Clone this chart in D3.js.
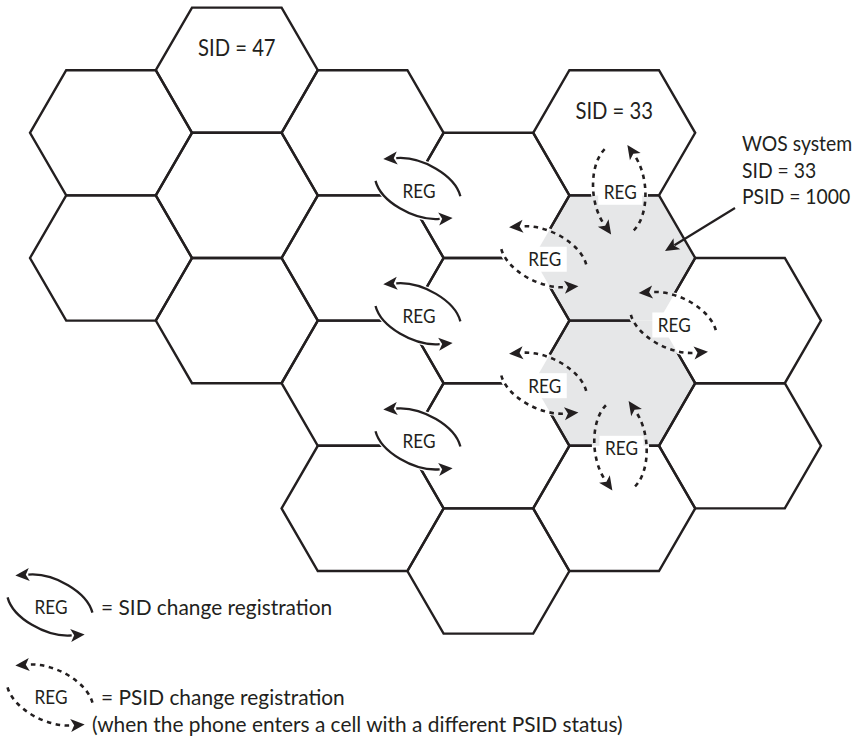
<!DOCTYPE html>
<html lang="en">
<head>
<meta charset="UTF-8">
<title>SID / PSID change registration</title>
<script src="https://d3js.org/d3.v7.min.js"></script>
<style>
  html, body { margin: 0; background: #fff; }
  svg { display: block; }
  text { font-family: Lato, "Open Sans", sans-serif; fill: #231f20; }
</style>
</head>
<body>
<svg id="chart" width="865" height="739"></svg>
<script>
// hex cells of the flat-top grid: column and half-row index
const cellCol = [0, 0, 1, 1, 1, 2, 2, 2, 2, 3, 3, 3, 3, 4, 4, 4, 4, 5, 5];
const cellRow = [2, 4, 1, 3, 5, 2, 4, 6, 8, 3, 5, 7, 9, 2, 4, 6, 8, 5, 7];
// cells of the WOS system (grey)
const shadedCol = [4, 4];
const shadedRow = [4, 6];
// labels written inside cells
const cellLabelCol = [1, 4];
const cellLabelRow = [1, 2];
const cellLabelText = ["SID = 47", "SID = 33"];
// REG markers: position in grid units, kind and tilt of the ellipse (deg)
const regCol = [2.44, 2.44, 2.44, 4.04, 3.44, 4.47, 3.44, 4.05];
const regRow = [2.89, 4.89, 6.89, 2.91, 3.98, 5.03, 6.0, 7.0];
const regKind = ["SID", "SID", "SID", "PSID", "PSID", "PSID", "PSID", "PSID"];
const regTilt = [25, 25, 25, 85, 25, 25, 25, 85];
// callout text
const wosLines = ["WOS system", "SID = 33", "PSID = 1000"];
// legend
const legendKind = ["SID", "PSID"];
const legendLines = [
    ["= SID change registration"],
    ["= PSID change registration", "(when the phone enters a cell with a different PSID status)"]
];

const ink = "#231f20";
const svg = d3.select("#chart");

// grid scales
const x = d3.scaleLinear().domain([0, 5]).range([111, 740]);
const y = d3.scaleLinear().domain([0, 10]).range([7.6, 633.6]);
const hexR = 81;                    // centre to side corner
const hexA = (x(1) - x(0)) - hexR;  // half of top edge
const hexH = y(1) - y(0);           // half height

function hexPath(c, r) {
    const cx = x(c), cy = y(r);
    return d3.line()([
        [cx - hexR, cy], [cx - hexA, cy - hexH], [cx + hexA, cy - hexH],
        [cx + hexR, cy], [cx + hexA, cy + hexH], [cx - hexA, cy + hexH]
    ]) + "Z";
}

// narrow-looking text: Lato squeezed a little horizontally
function addText(parent, px, py, str, size, sq, anchor) {
    parent.append("g")
        .attr("transform", `translate(${px},${py}) scale(${sq},1)`)
        .append("text")
        .attr("text-anchor", anchor || "start")
        .attr("dominant-baseline", "central")
        .attr("font-size", size)
        .text(str);
}

const cells = cellCol.map((c, i) => ({ col: c, row: cellRow[i] }));
const shaded = shadedCol.map((c, i) => ({ col: c, row: shadedRow[i] }));
const markers = regCol.map((c, i) => ({
    cx: x(c), cy: y(regRow[i]), kind: regKind[i], tilt: regTilt[i]
}));

// REG ellipse shape
const RX = 46, RY = 26;
const rad = d => d * Math.PI / 180;

function ellPoint(m, t) {
    const a = rad(t), th = rad(m.tilt);
    const lx = RX * Math.cos(a), ly = RY * Math.sin(a);
    return [m.cx + lx * Math.cos(th) - ly * Math.sin(th),
            m.cy + lx * Math.sin(th) + ly * Math.cos(th)];
}
// direction of travel when t decreases
function ellDir(m, t) {
    const a = rad(t), th = rad(m.tilt);
    const lx = RX * Math.sin(a), ly = -RY * Math.cos(a);
    const dx = lx * Math.cos(th) - ly * Math.sin(th);
    const dy = lx * Math.sin(th) + ly * Math.cos(th);
    const n = Math.hypot(dx, dy);
    return [dx / n, dy / n];
}

const arcs = [[-25, -135], [155, 45]];

// knock-out mask: line work is hidden inside the REG ellipses
const defs = svg.append("defs");
const mask = defs.append("mask").attr("id", "knock")
    .attr("maskUnits", "userSpaceOnUse")
    .attr("x", 0).attr("y", 0).attr("width", 865).attr("height", 739);
mask.append("rect").attr("width", 865).attr("height", 739).attr("fill", "white");
mask.selectAll("ellipse").data(markers).enter().append("ellipse")
    .attr("rx", RX * 1.06).attr("ry", RY * 1.1)
    .attr("transform", d => `translate(${d.cx},${d.cy}) rotate(${d.tilt})`)
    .attr("fill", "black");

// grey cells
svg.append("g").selectAll("path").data(shaded).enter().append("path")
    .attr("d", d => hexPath(d.col, d.row))
    .attr("fill", "#e6e7e8");

// hex outlines
svg.append("g").attr("mask", "url(#knock)")
    .selectAll("path").data(cells).enter().append("path")
    .attr("d", d => hexPath(d.col, d.row))
    .attr("fill", "none")
    .attr("stroke", ink)
    .attr("stroke-width", 2.4)
    .attr("stroke-linejoin", "miter");

function arrowHead(g, base, dir) {
    const ang = Math.atan2(dir[1], dir[0]) * 180 / Math.PI;
    g.append("path")
        .attr("d", d3.line()([[13, 0], [-1, 6.5], [2.5, 0], [-1, -6.5]]) + "Z")
        .attr("transform", `translate(${base[0]},${base[1]}) rotate(${ang})`)
        .attr("fill", ink);
}

function drawReg(g, m, withBox) {
    if (withBox) {
        g.append("rect")
            .attr("x", m.cx - 21).attr("y", m.cy - 10)
            .attr("width", 44).attr("height", 25)
            .attr("fill", "#fff");
    }
    addText(g, m.cx + 1, m.cy + 2, "REG", 19.5, 0.88, "middle");
    arcs.forEach(([t0, t1]) => {
        const p0 = ellPoint(m, t0), p1 = ellPoint(m, t1);
        g.append("path")
            .attr("d", `M${p0[0]},${p0[1]} A${RX},${RY} ${m.tilt} 0 0 ${p1[0]},${p1[1]}`)
            .attr("fill", "none")
            .attr("stroke", ink)
            .attr("stroke-width", m.kind === "SID" ? 2.3 : 2.6)
            .attr("stroke-dasharray", m.kind === "SID" ? null : "4.5 4.5");
        arrowHead(g, p1, ellDir(m, t1));
    });
}

const regG = svg.append("g");
markers.forEach(m => drawReg(regG.append("g"), m, m.kind === "PSID"));

// cell labels
const labG = svg.append("g");
cellLabelText.forEach((t, i) => {
    addText(labG, x(cellLabelCol[i]), y(cellLabelRow[i]) - hexH + 40, t, 22.5, 0.9, "middle");
});

// WOS callout
const wosG = svg.append("g");
wosLines.forEach((t, i) => addText(wosG, 742, 143 + i * 26.5, t, 21.5, 0.9));

const calloutFrom = [735, 208], calloutTip = [665, 251];
const cdx = calloutTip[0] - calloutFrom[0], cdy = calloutTip[1] - calloutFrom[1];
const clen = Math.hypot(cdx, cdy);
const cdir = [cdx / clen, cdy / clen];
const cbase = [calloutTip[0] - cdir[0] * 13, calloutTip[1] - cdir[1] * 13];
svg.append("line")
    .attr("x1", calloutFrom[0]).attr("y1", calloutFrom[1])
    .attr("x2", cbase[0] + cdir[0] * 2).attr("y2", cbase[1] + cdir[1] * 2)
    .attr("stroke", ink).attr("stroke-width", 2.2);
arrowHead(svg.append("g"), cbase, cdir);

// legend
const legY = [605, 695];
legendKind.forEach((k, i) => {
    const g = svg.append("g");
    drawReg(g, { cx: 50, cy: legY[i], kind: k, tilt: 25 }, false);
    legendLines[i].forEach((line, j) => {
        addText(g, j === 0 ? 101 : 92, legY[i] + 2 + j * 27, line, 22, 0.95);
    });
});
</script>
</body>
</html>
